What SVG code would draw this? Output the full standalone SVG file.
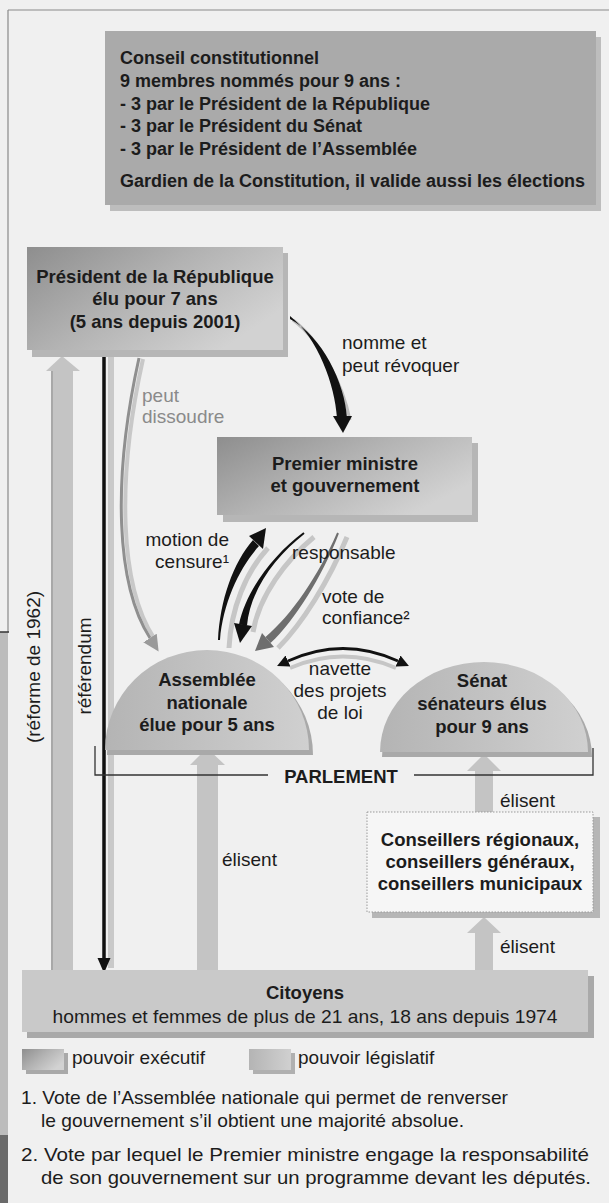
<svg xmlns="http://www.w3.org/2000/svg" width="609" height="1203" viewBox="0 0 609 1203">
<style>
text{font-family:"Liberation Sans",Arial,sans-serif;fill:#1c1c1c}
.b{font-weight:bold;font-size:18.5px}
.bc{font-weight:bold;font-size:18px}
.r{font-size:19px}
.c{text-anchor:middle}
.g{fill:#8a8a8a}
.shadow{fill:#b6b6b6}
.band{fill:#c4c4c4}
.comp{fill:none;stroke:#c6c6c6;stroke-width:5}
</style>
<defs>
<linearGradient id="exec" x1="0" y1="0" x2="1" y2="0.6">
<stop offset="0" stop-color="#8e8e8e"/>
<stop offset="0.5" stop-color="#b2b2b2"/>
<stop offset="1" stop-color="#d2d2d2"/>
</linearGradient>
<linearGradient id="leg" x1="0" y1="0" x2="1" y2="0">
<stop offset="0" stop-color="#b4b4b4"/>
<stop offset="1" stop-color="#d0d0d0"/>
</linearGradient>
<marker id="hb" viewBox="0 0 10 10" refX="0" refY="5" markerUnits="userSpaceOnUse" markerWidth="12" markerHeight="12" orient="auto-start-reverse">
<path d="M0 0L10 5L0 10z" fill="#111"/>
</marker>
<marker id="hg" viewBox="0 0 10 10" refX="0" refY="5" markerUnits="userSpaceOnUse" markerWidth="16" markerHeight="16" orient="auto">
<path d="M0 0L10 5L0 10z" fill="#9a9a9a"/>
</marker>
</defs>

<rect x="0" y="0" width="609" height="1203" fill="#f0f0f0"/>
<path d="M8 10H609M8 10V632" stroke="#8a8a8a" stroke-width="1.2" fill="none"/>
<rect x="0" y="632" width="8" height="571" fill="#bcbcbc"/>
<rect x="0" y="1135" width="8" height="68" fill="#6a6a6a"/>
<path d="M0 632H9" stroke="#333" stroke-width="1.5"/>

<g id="connectors">
<!-- left wide arrow (réforme de 1962) -->
<rect class="band" x="52" y="368" width="21" height="602"/>
<path d="M52 368V970" stroke="#a8a8a8" stroke-width="2"/>
<polygon class="band" points="46,371 62,356 80,371"/>
<!-- référendum black arrow -->
<rect x="108" y="355" width="6" height="613" fill="#c9c9c9"/>
<path d="M104 352V960" stroke="#111" stroke-width="3.5"/>
<polygon points="97.5,958 110.5,958 104,973" fill="#111"/>
<!-- peut dissoudre -->
<path d="M143 359C116 481 120 586 154 638" fill="none" stroke="#c8c8c8" stroke-width="4"/>
<path d="M139 358C112 480 116 585 150 638" fill="none" stroke="#8f8f8f" stroke-width="3" marker-end="url(#hg)"/>
<!-- nomme et peut révoquer -->
<path d="M293 320C322 342 343 385 350 420" fill="none" stroke="#bdbdbd" stroke-width="3"/>
<path d="M290 316C318 338 335 385 337 418L347 418C345 383 322 336 290 319Z" fill="#111"/>
<polygon points="333,416 352,416 343,433" fill="#111"/>
<!-- motion de censure (up) -->
<path class="comp" d="M229 648C231 608 246 572 268 548"/>
<path d="M218 640C220 600 233 563 253 540L259 546C240 567 223 602 220 640Z" fill="#111"/>
<polygon points="249,536 263,549 266,528" fill="#111"/>
<!-- responsable (down) -->
<path class="comp" d="M314 537C286 560 259 596 253 632"/>
<path d="M303.4 532.2C274 554 246 590 239 624.4L247 625.6C250 590 276 556 304.6 533.8Z" fill="#111"/>
<polygon points="234,623 252,626 240,643" fill="#111"/>
<!-- vote de confiance (down) -->
<path class="comp" d="M347 537C329 581 302 624 278 648"/>
<path d="M337.1 532.6C319 575 291 616 265.5 636.9L270.5 643.1C295 620 322 577 338.9 533.4Z" fill="#6e6e6e"/>
<polygon points="262,633 274,647 255,651" fill="#6e6e6e"/>
<!-- navette -->
<path d="M290 668Q343 645 396 668" fill="none" stroke="#c6c6c6" stroke-width="4"/>
<path d="M288 661Q343 636 398 661" fill="none" stroke="#111" stroke-width="3" marker-start="url(#hb)" marker-end="url(#hb)"/>
<!-- élisent (Assemblée) -->
<rect class="band" x="197" y="762" width="21" height="208"/>
<polygon class="band" points="190,765 207,748 225,765"/>
<!-- élisent (Sénat) -->
<rect class="band" x="475" y="768" width="18" height="44"/>
<polygon class="band" points="467,771 484,754 501,771"/>
<!-- élisent (Conseillers) -->
<rect class="band" x="475" y="930" width="18" height="40"/>
<polygon class="band" points="467,933 484,917 501,933"/>
</g>

<g id="labels">
<text class="r" x="342" y="349">nomme et</text>
<text class="r" x="342" y="372">peut révoquer</text>
<text class="r g" x="142" y="402">peut</text>
<text class="r g" x="142" y="423">dissoudre</text>
<text class="r" x="229" y="546" text-anchor="end">motion de</text>
<text class="r" x="229" y="568" text-anchor="end">censure¹</text>
<text class="r" x="292" y="559">responsable</text>
<text class="r" x="322" y="603">vote de</text>
<text class="r" x="322" y="624">confiance²</text>
<text class="r c" x="340" y="675">navette</text>
<text class="r c" x="340" y="697">des projets</text>
<text class="r c" x="340" y="719">de loi</text>
<text class="r" x="222" y="866">élisent</text>
<text class="r" x="500" y="807">élisent</text>
<text class="r" x="500" y="953">élisent</text>
<text class="r c" transform="translate(40 667) rotate(-90)">(réforme de 1962)</text>
<text class="r c" transform="translate(91 666) rotate(-90)">référendum</text>
</g>

<g id="conseil">
<rect x="110" y="37" width="491" height="174" fill="#bdbdbd"/>
<rect x="105" y="31" width="491" height="174" fill="#aaaaaa"/>
<text class="bc" x="120" y="64">Conseil constitutionnel</text>
<text class="bc" x="120" y="87">9 membres nommés pour 9 ans :</text>
<text class="bc" x="120" y="110">- 3 par le Président de la République</text>
<text class="bc" x="120" y="132">- 3 par le Président du Sénat</text>
<text class="bc" x="120" y="155">- 3 par le Président de l’Assemblée</text>
<text class="bc" x="120" y="187">Gardien de la Constitution, il valide aussi les élections</text>
</g>

<g id="president">
<rect class="shadow" x="32" y="253" width="256" height="104"/>
<rect x="27" y="247" width="256" height="103" fill="url(#exec)"/>
<text class="b c" x="155" y="283">Président de la République</text>
<text class="b c" x="155" y="305">élu pour 7 ans</text>
<text class="b c" x="155" y="328">(5 ans depuis 2001)</text>
</g>

<g id="premier-ministre">
<rect class="shadow" x="223" y="443" width="255" height="79"/>
<rect x="217" y="437" width="255" height="78" fill="url(#exec)"/>
<text class="b c" x="345" y="470">Premier ministre</text>
<text class="b c" x="345" y="492">et gouvernement</text>
</g>

<g id="assemblee">
<path d="M107 755A102 100 0 0 1 313 755Z" fill="#a9a9a9"/>
<path d="M105 750A102 100 0 0 1 309 750Z" fill="url(#leg)"/>
<text class="b c" x="207" y="686">Assemblée</text>
<text class="b c" x="207" y="709">nationale</text>
<text class="b c" x="207" y="731">élue pour 5 ans</text>
</g>

<g id="senat">
<path d="M382 757A104 90 0 0 1 592 757Z" fill="#a9a9a9"/>
<path d="M380 752A104 90 0 0 1 588 752Z" fill="url(#leg)"/>
<text class="b c" x="482" y="687">Sénat</text>
<text class="b c" x="482" y="710">sénateurs élus</text>
<text class="b c" x="482" y="733">pour 9 ans</text>
</g>

<g id="parlement">
<path d="M95 746V775H268M414 775H593V748" fill="none" stroke="#333" stroke-width="1.3"/>
<text class="b c" x="341" y="783">PARLEMENT</text>
</g>

<g id="conseillers">
<rect class="shadow" x="372" y="817" width="228" height="101"/>
<rect x="367" y="812" width="226" height="100" fill="#f6f6f6" stroke="#9a9a9a" stroke-width="1" stroke-dasharray="1.5 1.5"/>
<text class="b c" x="480" y="846">Conseillers régionaux,</text>
<text class="b c" x="480" y="868">conseillers généraux,</text>
<text class="b c" x="480" y="890">conseillers municipaux</text>
</g>

<g id="citoyens">
<rect x="27" y="976" width="567" height="62" fill="#a9a9a9"/>
<rect x="22" y="970" width="566" height="62" fill="#c9c9c9"/>
<text class="b c" x="305" y="999">Citoyens</text>
<text class="r c" x="305" y="1023" textLength="505" lengthAdjust="spacingAndGlyphs">hommes et femmes de plus de 21 ans, 18 ans depuis 1974</text>
</g>

<g id="legend">
<rect x="26" y="1053" width="42" height="21" fill="#a9a9a9"/>
<rect x="22" y="1049" width="42" height="21" fill="url(#exec)"/>
<text class="r" x="72" y="1064">pouvoir exécutif</text>
<rect x="253" y="1053" width="42" height="21" fill="#b0b0b0"/>
<rect x="249" y="1049" width="42" height="21" fill="url(#leg)"/>
<text class="r" x="298" y="1064">pouvoir législatif</text>
</g>

<g id="footnotes">
<text class="r" x="21" y="1104" textLength="487" lengthAdjust="spacingAndGlyphs">1. Vote de l’Assemblée nationale qui permet de renverser</text>
<text class="r" x="41" y="1127" textLength="423" lengthAdjust="spacingAndGlyphs">le gouvernement s’il obtient une majorité absolue.</text>
<text class="r" x="21" y="1161" textLength="568" lengthAdjust="spacingAndGlyphs">2. Vote par lequel le Premier ministre engage la responsabilité</text>
<text class="r" x="41" y="1184" textLength="550" lengthAdjust="spacingAndGlyphs">de son gouvernement sur un programme devant les députés.</text>
</g>
</svg>
